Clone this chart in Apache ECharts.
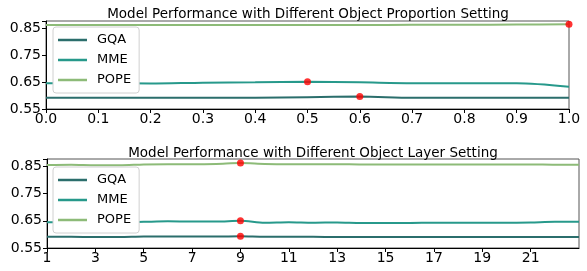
<!DOCTYPE html>
<html>
<head>
<meta charset="utf-8">
<script src="https://cdn.jsdelivr.net/npm/echarts@6/dist/echarts.min.js"></script>
<style>
  html, body { margin: 0; padding: 0; background: #fff; }
  #chart { width: 587px; height: 271px; }
</style>
</head>
<body>
<div id="chart"></div>
<script>
// top panel: object proportion
var propX = [0, 0.1, 0.2, 0.3, 0.4, 0.5, 0.6, 0.7, 0.8, 0.9, 1.0];
var propGQA = [0.592, 0.592, 0.592, 0.592, 0.592, 0.594, 0.596, 0.592, 0.592, 0.592, 0.592];
var propMME = [0.646, 0.646, 0.645, 0.648, 0.649, 0.651, 0.649, 0.646, 0.646, 0.646, 0.633];
var propPOPE = [0.862, 0.862, 0.862, 0.862, 0.862, 0.862, 0.862, 0.863, 0.863, 0.864, 0.865];

// bottom panel: object layer
var layerX = [1, 2, 3, 4, 5, 6, 7, 8, 9, 10, 11, 12, 13, 14, 15, 16, 17, 18, 19, 20, 21, 22, 23];
var layerGQA = [0.591, 0.591, 0.590, 0.590, 0.592, 0.592, 0.592, 0.592, 0.593, 0.591, 0.591, 0.591,
  0.590, 0.590, 0.590, 0.590, 0.590, 0.590, 0.590, 0.590, 0.590, 0.590, 0.590];
var layerMME = [0.645, 0.644, 0.643, 0.644, 0.646, 0.648, 0.647, 0.647, 0.650, 0.643, 0.645, 0.643,
  0.644, 0.642, 0.642, 0.642, 0.643, 0.643, 0.643, 0.643, 0.644, 0.646, 0.646];
var layerPOPE = [0.855, 0.856, 0.854, 0.854, 0.857, 0.858, 0.858, 0.859, 0.862, 0.859, 0.858, 0.858,
  0.858, 0.857, 0.857, 0.857, 0.857, 0.857, 0.857, 0.857, 0.857, 0.856, 0.856];

var yTicks = [0.55, 0.65, 0.75, 0.85];
var names = ['GQA', 'MME', 'POPE'];
var colors = ['#2b6e6c', '#27998b', '#8dbb78'];

var font = 'DejaVu Sans';

function pairs(xs, ys) {
  return xs.map(function (x, i) { return [x, ys[i]]; });
}
// red dot at the best value of each series
function best(xs, ys) {
  var k = 0;
  ys.forEach(function (v, i) { if (v > ys[k]) k = i; });
  return [xs[k], ys[k]];
}

var chart = echarts.init(document.getElementById('chart'));

function yAxis(gi) {
  return {
    gridIndex: gi, type: 'value', min: yTicks[0], max: 0.877, interval: 0.1,
    axisLine: { show: true, lineStyle: { color: '#000', width: 1 } },
    axisTick: { show: true, length: 4, lineStyle: { color: '#000' } },
    axisLabel: {
      color: '#000', fontSize: 14, fontFamily: font, margin: 5,
      formatter: function (v) {
        var s = v.toFixed(2);
        return yTicks.some(function (t) { return t.toFixed(2) === s; }) ? s : '';
      }
    },
    splitLine: { show: false }
  };
}

function lineSeries(gi, xs, data) {
  return data.map(function (ys, i) {
    return {
      name: names[i], type: 'line', xAxisIndex: gi, yAxisIndex: gi,
      data: pairs(xs, ys), smooth: 0.3, showSymbol: false, symbol: 'none',
      lineStyle: { width: 2, color: colors[i] }, itemStyle: { color: colors[i] },
      z: 2
    };
  });
}

function dots(gi, xs, data) {
  return {
    type: 'scatter', xAxisIndex: gi, yAxisIndex: gi, symbolSize: 7,
    data: data.map(function (ys) { return best(xs, ys); }),
    itemStyle: { color: '#ff0000' }, z: 4, silent: true, clip: true
  };
}

function legend(top) {
  return {
    left: 53, top: top, orient: 'vertical', data: names,
    icon: 'rect', itemWidth: 29, itemHeight: 2.5, itemGap: 6,
    padding: [6, 8, 6, 5],
    backgroundColor: '#fff', borderColor: '#d0d0d0', borderWidth: 1, borderRadius: 3,
    textStyle: { fontSize: 13, fontFamily: font, color: '#000', lineHeight: 14, padding: [0, 0, 0, 5] },
    z: 10
  };
}

var option = {
  animation: false,
  title: [
    { text: 'Model Performance with Different Object Proportion Setting', left: 303, top: 2, textAlign: 'center',
      textStyle: { fontSize: 13.5, fontWeight: 'normal', fontFamily: font, color: '#000' } },
    { text: 'Model Performance with Different Object Layer Setting', left: 308, top: 141, textAlign: 'center',
      textStyle: { fontSize: 13.5, fontWeight: 'normal', fontFamily: font, color: '#000' } }
  ],
  legend: [legend(27), legend(167)],
  grid: [
    { left: 46, right: 18, top: 21, height: 88, show: true, borderColor: '#555', borderWidth: 1 },
    { left: 47, right: 8, top: 159, height: 89, show: true, borderColor: '#555', borderWidth: 1 }
  ],
  xAxis: [
    {
      gridIndex: 0, type: 'value', min: 0, max: 1, interval: 0.1,
      axisLine: { lineStyle: { color: '#000' } },
      axisTick: { length: 4, lineStyle: { color: '#000' } },
      axisLabel: { color: '#000', fontSize: 14, fontFamily: font, margin: 3,
        formatter: function (v) { return v.toFixed(1); } },
      splitLine: { show: false }
    },
    {
      gridIndex: 1, type: 'value', min: 1, max: 23, interval: 2,
      axisLine: { lineStyle: { color: '#000' } },
      axisTick: { length: 4, lineStyle: { color: '#000' } },
      axisLabel: { color: '#000', fontSize: 14, fontFamily: font, margin: 3, showMaxLabel: false },
      splitLine: { show: false }
    }
  ],
  yAxis: [yAxis(0), yAxis(1)],
  series: [].concat(
    lineSeries(0, propX, [propGQA, propMME, propPOPE]),
    [dots(0, propX, [propGQA, propMME, propPOPE])],
    lineSeries(1, layerX, [layerGQA, layerMME, layerPOPE]),
    [dots(1, layerX, [layerGQA, layerMME, layerPOPE])]
  )
};
chart.setOption(option);
</script>
</body>
</html>
